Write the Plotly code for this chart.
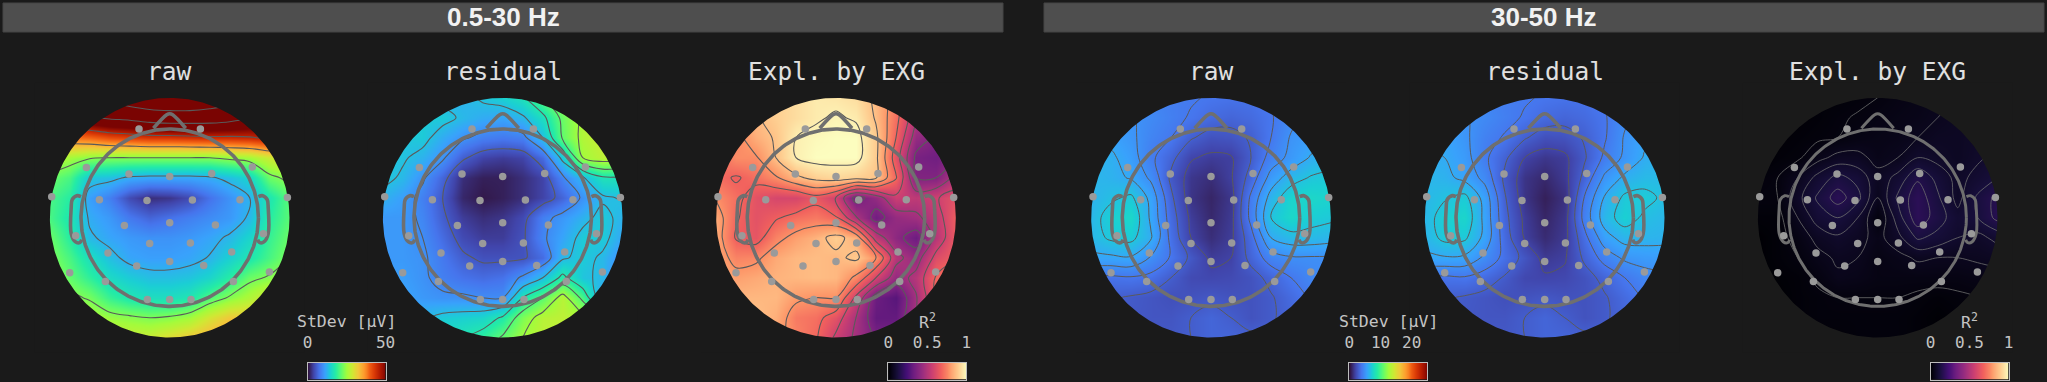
import plotly.graph_objects as go
import numpy as np

W, H = 2047, 382
BG = "#1a1a1a"
MONO = "DejaVu Sans Mono"

# value grids: rows run top to bottom, columns left to right
GRID_POS = [-120, -100, -80, -60, -40, -20, 0, 20, 40, 60, 80, 100, 120]

raw_low = [
    [55, 60, 66, 70, 74, 77, 78, 78, 75, 72, 68, 60, 55],
    [50, 53, 55, 57, 58, 60, 61, 61, 60.5, 59, 56, 53, 50],
    [38, 38, 39, 41, 42, 43, 43, 43.5, 44, 44, 44.5, 46, 48],
    [27, 25, 23.5, 23, 23, 23, 23, 23, 23, 24, 25, 28, 30],
    [22, 20, 13.5, 13, 11.5, 11, 11, 11, 11.5, 13, 15, 22, 24],
    [20, 18, 10.5, 8, 4, 2, 2.5, 4, 7, 9.5, 12, 17, 21],
    [20, 17, 11.5, 10, 7.5, 6, 7, 8, 9, 10, 12.5, 18, 21],
    [22, 18, 12.5, 11, 10, 9.5, 9.5, 10, 11, 12.5, 15, 19, 22],
    [23, 20, 16, 13, 11, 10.5, 10.5, 11, 12.2, 14.5, 17, 20, 23],
    [25, 21.5, 18.5, 15.5, 14, 13, 13, 13.5, 15, 18, 22, 23.5, 26],
    [27, 24, 22.5, 19, 17, 16, 16, 17, 20.5, 23.5, 26, 29, 31],
    [30, 28, 26, 24.5, 23.7, 23, 23.5, 25, 29, 32, 32, 34, 35],
    [32, 30, 29, 28, 28, 28, 30, 32, 34, 36, 36, 37, 38],
]
residual_low = [
    [12, 12, 12, 12, 12, 13.5, 14.5, 16.5, 21, 25, 28, 30, 30],
    [14, 13.5, 14, 14, 12.5, 11.5, 11, 12.5, 16, 22, 26, 29, 30],
    [13.5, 13.5, 14, 11.5, 9.5, 8, 7.5, 8, 13, 21.5, 26, 28, 28],
    [13.5, 13.4, 12, 9.5, 5.5, 3.5, 3, 3.5, 6.5, 14, 25, 27, 26],
    [14, 12.5, 9.5, 6, 2, 1, 1, 2, 3.5, 8.5, 12.5, 16.5, 16.5],
    [12, 10.5, 8, 5, 1.5, 0.5, 1, 2, 3.5, 6, 9.5, 12.5, 13.3],
    [10, 10, 8.5, 5.5, 3, 2, 2.5, 4, 8, 10, 12, 14, 12],
    [10, 10, 9, 6.5, 4, 3, 3, 4.5, 8.5, 11, 14, 14, 11],
    [10, 10, 9.5, 7.5, 5.5, 4.5, 4.5, 4.6, 6.5, 12.5, 14, 12.5, 9],
    [10.5, 10.5, 9.5, 8, 7, 6.5, 7, 9.5, 13, 18, 13.5, 12.5, 7],
    [11, 11, 10, 9.5, 9.5, 9, 9, 17, 21, 26.5, 20, 10, 10],
    [12, 12, 12.5, 14, 14.5, 15, 17.5, 23, 26.5, 27, 26, 20, 15],
    [14, 14, 15, 16, 17, 18.5, 21.5, 25, 27, 27, 27, 23, 18],
]
explained_low = [
    [0.80, 0.82, 0.85, 0.90, 0.93, 0.96, 0.95, 0.93, 0.85, 0.72, 0.55, 0.50, 0.55],
    [0.78, 0.82, 0.86, 0.90, 0.93, 0.96, 0.98, 0.96, 0.86, 0.70, 0.50, 0.45, 0.45],
    [0.72, 0.74, 0.83, 0.88, 0.97, 0.99, 1.00, 1.00, 0.89, 0.67, 0.42, 0.37, 0.40],
    [0.68, 0.76, 0.76, 0.87, 0.97, 1.00, 1.00, 1.00, 0.89, 0.62, 0.35, 0.33, 0.38],
    [0.70, 0.66, 0.70, 0.76, 0.85, 0.90, 0.92, 0.90, 0.88, 0.68, 0.37, 0.37, 0.50],
    [0.76, 0.70, 0.62, 0.58, 0.58, 0.64, 0.56, 0.33, 0.42, 0.55, 0.52, 0.56, 0.62],
    [0.82, 0.68, 0.62, 0.66, 0.70, 0.72, 0.68, 0.48, 0.33, 0.42, 0.45, 0.52, 0.66],
    [0.82, 0.66, 0.63, 0.74, 0.80, 0.84, 0.90, 0.83, 0.52, 0.40, 0.32, 0.50, 0.65],
    [0.82, 0.74, 0.75, 0.82, 0.85, 0.86, 0.85, 0.89, 0.77, 0.50, 0.42, 0.60, 0.66],
    [0.85, 0.80, 0.82, 0.84, 0.85, 0.86, 0.85, 0.75, 0.57, 0.42, 0.50, 0.68, 0.75],
    [0.88, 0.85, 0.85, 0.85, 0.79, 0.77, 0.77, 0.55, 0.32, 0.27, 0.46, 0.67, 0.75],
    [0.88, 0.88, 0.87, 0.83, 0.72, 0.70, 0.62, 0.47, 0.30, 0.30, 0.47, 0.60, 0.70],
    [0.85, 0.85, 0.83, 0.80, 0.74, 0.68, 0.55, 0.45, 0.36, 0.35, 0.47, 0.60, 0.70],
]
raw_high = [
    [5, 5, 4.7, 4.2, 3.9, 3.8, 3.6, 3.5, 3.5, 3.8, 4.2, 5, 5.5],
    [5.2, 5.4, 4.8, 4.4, 4.0, 3.6, 3.2, 3, 3.2, 3.6, 4.4, 5.2, 5.5],
    [5.5, 5.4, 4.9, 4.2, 3.7, 2.8, 2.3, 2.4, 2.8, 3.7, 4.8, 5.2, 5.5],
    [6, 5.9, 5.2, 3.9, 3, 1.8, 1.5, 1.6, 2.7, 4.1, 5, 5.8, 6.2],
    [6.2, 6, 5.6, 4.5, 2.5, 1.3, 1, 1.6, 3.1, 5.1, 6.2, 6.8, 7],
    [6, 6.5, 6.9, 5.4, 2.9, 1.2, 0.7, 1.3, 3.9, 6.1, 7.4, 7.6, 7.4],
    [6.2, 7.2, 7.6, 5.5, 3.2, 1.5, 0.8, 1.4, 4, 6.7, 7.6, 7.1, 6.9],
    [6.2, 6.9, 7, 5.8, 3.4, 1.7, 1, 1.5, 3.3, 5.7, 6.3, 6.3, 6.1],
    [5.5, 5.5, 5.6, 4.6, 3.6, 2.5, 1.5, 1.7, 3, 4.2, 4.6, 4.6, 4.6],
    [3.5, 3.5, 3.6, 3.4, 2.7, 2, 1.9, 2, 2.3, 3, 3.7, 4.3, 4.5],
    [3, 2.8, 2.6, 2.4, 2.2, 2.3, 2.5, 2.3, 2.3, 2.6, 3.2, 3.8, 4],
    [2.5, 2.5, 2.5, 2.4, 2.4, 2.7, 3, 2.7, 2.3, 2.6, 3, 3.3, 3.5],
    [2.5, 2.5, 2.5, 2.5, 2.5, 2.7, 3, 3, 2.9, 2.8, 3, 3.2, 3.5],
]
residual_high = [
    [5, 5, 4.7, 4.2, 3.9, 3.8, 3.6, 3.5, 3.5, 3.8, 4.3, 5, 5.5],
    [5.2, 5.3, 4.8, 4.4, 4.0, 3.6, 3.2, 3, 3.2, 3.6, 4.5, 5.2, 5.5],
    [5.6, 5.5, 4.9, 4.1, 3.6, 2.8, 2.2, 2.3, 2.8, 3.6, 4.8, 5.5, 5.7],
    [5.8, 5.7, 5.1, 3.9, 2.9, 1.7, 1.3, 1.5, 2.6, 3.9, 4.9, 5.8, 6],
    [6.2, 6, 5.4, 4.4, 2.5, 1.2, 0.8, 1.4, 3.0, 4.9, 5.9, 6.3, 6.3],
    [6.2, 6.6, 7, 5.3, 2.8, 1.2, 0.5, 1.1, 3.8, 5.8, 6.9, 7, 6.5],
    [6.2, 7.2, 7.5, 5.4, 3.0, 1.5, 0.7, 1.3, 4.1, 6.2, 7.2, 6.5, 6.2],
    [6.1, 7, 6.9, 5.4, 3.2, 1.6, 0.9, 1.4, 3.4, 5.3, 6.1, 6.1, 6],
    [5.5, 5.6, 5.5, 4.5, 3.4, 2.4, 1.4, 1.6, 2.9, 4.1, 4.9, 5.1, 5.2],
    [3.6, 3.5, 3.6, 3.2, 2.6, 1.9, 1.8, 1.9, 2.3, 3, 3.7, 4.3, 4.5],
    [3, 2.8, 2.6, 2.4, 2.2, 2.3, 2.5, 2.3, 2.3, 2.6, 3.2, 3.8, 4],
    [2.5, 2.5, 2.5, 2.4, 2.4, 2.7, 3, 2.7, 2.3, 2.6, 3, 3.3, 3.5],
    [2.5, 2.5, 2.5, 2.5, 2.5, 2.7, 3, 3, 2.9, 2.8, 3, 3.2, 3.5],
]
explained_high = [
    [0, 0, 0, 0.01, 0.01, 0.015, 0.02, 0.03, 0.035, 0.045, 0.05, 0.05, 0.06],
    [0, 0, 0.005, 0.01, 0.017, 0.022, 0.03, 0.035, 0.04, 0.05, 0.06, 0.06, 0.07],
    [0, 0.005, 0.01, 0.015, 0.02, 0.03, 0.035, 0.04, 0.05, 0.06, 0.06, 0.07, 0.08],
    [0, 0.01, 0.015, 0.04, 0.06, 0.06, 0.04, 0.05, 0.08, 0.07, 0.06, 0.075, 0.09],
    [0.015, 0.02, 0.05, 0.09, 0.12, 0.10, 0.06, 0.09, 0.135, 0.10, 0.07, 0.09, 0.11],
    [0.02, 0.02, 0.07, 0.115, 0.155, 0.12, 0.05, 0.115, 0.16, 0.115, 0.07, 0.115, 0.15],
    [0.01, 0.01, 0.05, 0.095, 0.11, 0.08, 0.02, 0.095, 0.16, 0.125, 0.09, 0.11, 0.15],
    [0, 0.01, 0.03, 0.06, 0.075, 0.06, 0.04, 0.07, 0.115, 0.10, 0.08, 0.07, 0.09],
    [0, 0.01, 0.02, 0.04, 0.055, 0.05, 0.03, 0.04, 0.055, 0.05, 0.05, 0.055, 0.06],
    [0, 0.005, 0.01, 0.025, 0.045, 0.04, 0.03, 0.03, 0.03, 0.03, 0.03, 0.035, 0.04],
    [0, 0, 0.01, 0.015, 0.02, 0.02, 0.02, 0.02, 0.015, 0.01, 0.015, 0.02, 0.03],
    [0, 0, 0.01, 0.015, 0.015, 0.015, 0.015, 0.015, 0.01, 0.003, 0.01, 0.015, 0.02],
    [0, 0, 0.01, 0.01, 0.01, 0.015, 0.015, 0.015, 0.01, 0.005, 0.01, 0.015, 0.02],
]

# electrode positions in px from the head centre
ELECTRODE_X = [-30.7, 30.7, -83.3, 82.7, -40.7, 0, 42, -118, 117.7, -70.3, -22.7, 22.7, 70.3,
               -94, 93.7, -45.3, 0, 45.7, -20, 20.7, -61.7, 62, 0, -33, 34, -100, 99.7,
               -64.3, 63.7, -22.3, 0, 21.3]
ELECTRODE_Y = [88.7, 88.7, 50.3, 50.7, 43.7, 41.3, 44.3, 21, 20.3, 18, 17.3, 17.7, 18,
               -18, -16, -7.7, -5, -7.3, -25.7, -25.3, -35.3, -34.3, -43.7, -48.3, -47.7, -55, -54.3,
               -63.7, -63.7, -81.7, -81.7, -81.7]

PANEL_TITLES = ["raw", "residual", "Expl. by EXG", "raw", "residual", "Expl. by EXG"]
HEADERS = ["0.5-30 Hz", "30-50 Hz"]

# colour-key stops as fractions of each key's range
KEY_STOPS = [0, 0.05, 0.1, 0.15, 0.2, 0.25, 0.3, 0.35, 0.4, 0.45, 0.5, 0.55, 0.6, 0.65, 0.7, 0.75, 0.8, 0.85, 0.9, 0.95, 1]

panels = [
    dict(cx=169.7, z=raw_low, cs="Turbo", zmax=50, start=12, end=78, size=11, line="#5a5a5a", lw=1.1),
    dict(cx=502.7, z=residual_low, cs="Turbo", zmax=50, start=5, end=25, size=4, line="#5a5a5a", lw=1.1),
    dict(cx=836.0, z=explained_low, cs="Magma", zmax=1, start=0.27, end=0.97, size=0.1, line="#5a5a5a", lw=1.1),
    dict(cx=1211.0, z=raw_high, cs="Turbo", zmax=25, start=1.7, end=6.7, size=1, line="#5a5a5a", lw=1.0),
    dict(cx=1544.7, z=residual_high, cs="Turbo", zmax=25, start=1.7, end=6.7, size=1, line="#5a5a5a", lw=1.0),
    dict(cx=1877.7, z=explained_high, cs="Magma", zmax=1, start=0.02, end=0.14, size=0.03, line="#6e6e6e", lw=0.8),
]
CY = 217.7
HALF = 135
R_IMG = 119.8
R_HEAD = 88.7
HEAD_COLOR = "#6f6f6f"
DOT = "#9a9a9a"
LABEL = "#c4c4c4"

keys = [
    dict(x0=307.5, cs="Turbo", zmax=50, title="StDev [µV]", tv=[0, 50], tt=["0", "50"]),
    dict(x0=888.3, cs="Magma", zmax=1, title="R<sup>2</sup>", tv=[0, 0.5, 1], tt=["0", "0.5", "1"]),
    dict(x0=1349.3, cs="Turbo", zmax=25, title="StDev [µV]", tv=[0, 10, 20], tt=["0", "10", "20"]),
    dict(x0=1930.5, cs="Magma", zmax=1, title="R<sup>2</sup>", tv=[0, 0.5, 1], tt=["0", "0.5", "1"]),
]
KEY_W = 78

theta = np.linspace(0, 2 * np.pi, 361)
hole_x = R_IMG * np.cos(theta)
hole_y = R_IMG * np.sin(theta)
# outer ring runs clockwise, hole runs counter-clockwise
mask_x = np.r_[HALF + 5, HALF + 5, -HALF - 5, -HALF - 5, HALF + 5, HALF + 5, hole_x]
mask_y = np.r_[0, -HALF - 5, -HALF - 5, HALF + 5, HALF + 5, 0, hole_y]

head_x = R_HEAD * np.cos(theta)
head_y = R_HEAD * np.sin(theta)
nose_x = [-16.3, -3, 0, 3, 16]
nose_y = [89.5, 103, 104, 103, 89.5]
ear_x = [88.7, 93, 97.5, 98.5, 98.5, 94.5, 90, 88]
ear_y = [21, 22, 18, 10, -16, -24, -25, -22]

fig = go.Figure()
layout = {}
for i, p in enumerate(panels):
    s = "" if i == 0 else str(i + 1)
    ax, ay = "x" + s, "y" + s
    layout["xaxis" + s] = dict(domain=[(p["cx"] - HALF) / W, (p["cx"] + HALF) / W], range=[-HALF, HALF],
                               visible=False, fixedrange=True, anchor=ay)
    layout["yaxis" + s] = dict(domain=[1 - (CY + HALF) / H, 1 - (CY - HALF) / H], range=[-HALF, HALF],
                               visible=False, fixedrange=True, anchor=ax)
    y_nodes = GRID_POS[::-1]
    fig.add_trace(go.Heatmap(x=GRID_POS, y=y_nodes, z=p["z"], zsmooth="best", colorscale=p["cs"],
                             zmin=0, zmax=p["zmax"], hoverinfo="skip", xaxis=ax, yaxis=ay, showscale=False))
    fig.add_trace(go.Contour(
        x=GRID_POS, y=y_nodes, z=p["z"], autocontour=False, showscale=False, hoverinfo="skip",
        contours=dict(coloring="none", start=p["start"], end=p["end"], size=p["size"], showlabels=False),
        line=dict(color=p["line"], width=p["lw"], smoothing=1.0), xaxis=ax, yaxis=ay,
    ))
    fig.add_trace(go.Scatter(x=mask_x, y=mask_y, mode="lines", fill="toself", fillcolor=BG,
                             line=dict(width=0, color=BG), hoverinfo="skip", xaxis=ax, yaxis=ay))
    lw = 3.6 if i != 5 else 3
    for ox, oy, shape in [
        (head_x, head_y, "linear"), (nose_x, nose_y, "spline"), (ear_x, ear_y, "spline"),
        ([-v for v in ear_x], ear_y, "spline"),
    ]:
        fig.add_trace(go.Scatter(x=ox, y=oy, mode="lines", line=dict(color=HEAD_COLOR, width=lw, shape=shape),
                                 hoverinfo="skip", xaxis=ax, yaxis=ay))
    fig.add_trace(go.Scatter(x=ELECTRODE_X, y=ELECTRODE_Y, mode="markers",
                             marker=dict(size=7.5, color=DOT, line=dict(width=0)),
                             hoverinfo="skip", xaxis=ax, yaxis=ay))

for j, k in enumerate(keys):
    s = str(7 + j)
    ax, ay = "x" + s, "y" + s
    layout["xaxis" + s] = dict(
        domain=[k["x0"] / W, (k["x0"] + KEY_W) / W], range=[0, k["zmax"]], anchor=ay, side="top",
        fixedrange=True, showgrid=False, zeroline=False, showline=True, mirror=True, linecolor="#bdbdbd", linewidth=1,
        tickmode="array", tickvals=k["tv"], ticktext=k["tt"], ticks="outside", ticklen=7, tickwidth=1,
        tickcolor="rgba(0,0,0,0)", tickfont=dict(family=MONO, size=16, color=LABEL),
    )
    layout["yaxis" + s] = dict(
        domain=[1 - 379.5 / H, 1 - 362.5 / H], range=[0, 1], anchor=ax, fixedrange=True, showgrid=False,
        zeroline=False, showline=True, mirror=True, linecolor="#bdbdbd", linewidth=1, showticklabels=False, ticks="",
    )
    stops = [f * k["zmax"] for f in KEY_STOPS]
    fig.add_trace(go.Heatmap(x=stops, y=[0, 1], z=[stops, stops], zsmooth="best", colorscale=k["cs"],
                             zmin=0, zmax=k["zmax"], showscale=False, hoverinfo="skip", xaxis=ax, yaxis=ay))


def px(x):
    return x / W


def py(y):
    return 1 - y / H


shapes = []
annotations = []
for (x0, x1), text in zip([(3, 1003), (1044, 2044)], HEADERS):
    shapes.append(dict(type="rect", xref="paper", yref="paper", x0=px(x0), x1=px(x1), y0=py(32), y1=py(3),
                       fillcolor="#4e4e4e", line=dict(color="#444444", width=1), layer="below"))
    annotations.append(dict(x=px((x0 + x1) / 2), y=py(17), xref="paper", yref="paper", text=text, showarrow=False,
                            xanchor="center", yanchor="middle",
                            font=dict(family="Liberation Sans", size=26, color="#f2f2f2", weight="bold")))
for p, t in zip(panels, PANEL_TITLES):
    annotations.append(dict(x=px(p["cx"]), y=py(72), xref="paper", yref="paper", text=t, showarrow=False,
                            xanchor="center", yanchor="middle",
                            font=dict(family=MONO, size=24.5, color="#e0e0e0")))
for k in keys:
    annotations.append(dict(x=px(k["x0"] + KEY_W / 2), y=py(321), xref="paper", yref="paper", text=k["title"],
                            showarrow=False, xanchor="center", yanchor="middle",
                            font=dict(family=MONO, size=16.5, color=LABEL)))

fig.update_layout(width=W, height=H, paper_bgcolor=BG, plot_bgcolor=BG, showlegend=False,
                  margin=dict(l=0, r=0, t=0, b=0, autoexpand=False),
                  shapes=shapes, annotations=annotations, **layout)

fig.write_html("out.html", config={"displayModeBar": False},
               post_script="document.body.style.margin='0';document.body.style.background='#1a1a1a';")
